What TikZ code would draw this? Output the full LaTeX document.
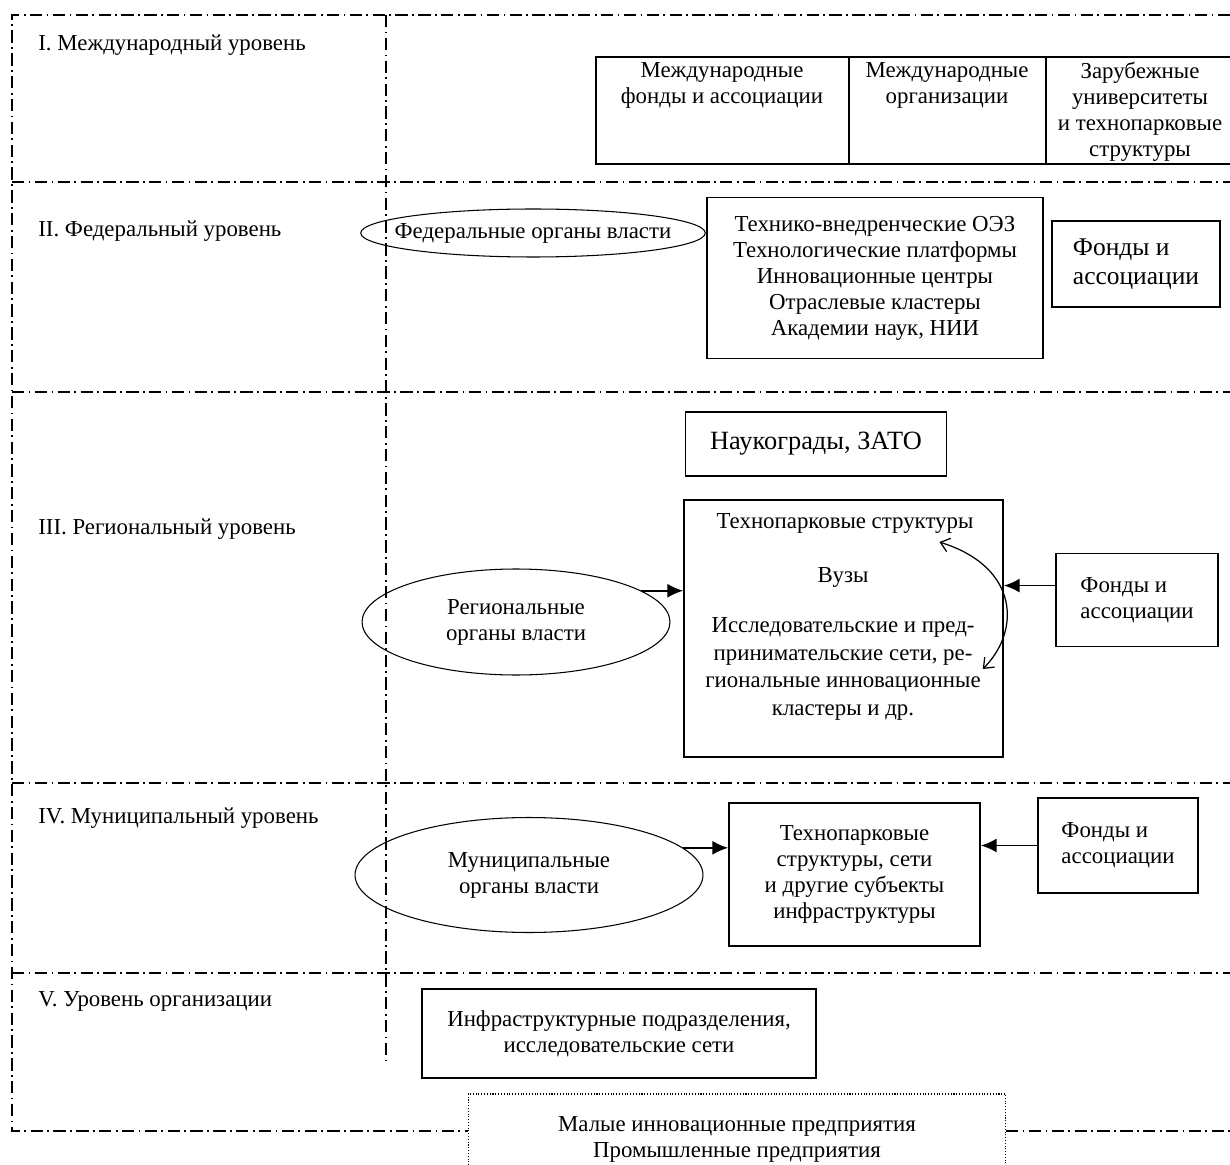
\documentclass[tikz,border=0pt]{standalone}
\usepackage{fontspec}
\setmainfont{Liberation Serif}
\usetikzlibrary{shapes.geometric,arrows.meta}

\begin{document}
\begin{tikzpicture}[x=0.02cm, y=-0.02cm,
    font=\fontsize{13}{14.8}\selectfont,
    levelline/.style={line width=0.7pt, dash pattern=on 7pt off 2.5pt on 1pt off 2.5pt},
    box/.style={rectangle, draw, line width=1pt, align=center, inner sep=2pt},
    authority/.style={ellipse, draw, line width=0.6pt, align=center, inner sep=0pt},
    lvl/.style={anchor=west, inner sep=0pt},
    txt/.style={align=center, inner sep=1pt},
    arr/.style={-{Latex[length=9pt,width=8pt]}, line width=1pt},
    twoway/.style={{Straight Barb[length=5pt,width=8pt]}-{Straight Barb[length=5pt,width=8pt]}, line width=0.7pt}]

    \useasboundingbox (0,0) rectangle (1230,1165);

    % Levels grid
    \draw[levelline] (1230,15) -- (12,15) -- (12,1131) -- (468,1131);
    \draw[levelline] (1006,1131) -- (1230,1131);
    \foreach \y in {182,392,783,973}
        \draw[levelline] (12,\y) -- (1230,\y);
    \draw[levelline] (386,15) -- (386,1062);

    \node[lvl] (lvl1) at (38,45) {I. Международный уровень};
    \node[lvl] (lvl2) at (38,231) {II. Федеральный уровень};
    \node[lvl] (lvl3) at (38,529) {III. Региональный уровень};
    \node[lvl] (lvl4) at (38,818) {IV. Муниципальный уровень};
    \node[lvl] (lvl5) at (38,1001) {V. Уровень организации};

    % International level
    \draw[line width=1pt] (1240,57) -- (596,57) -- (596,164) -- (1240,164);
    \foreach \x in {849,1046}
        \draw[line width=1pt] (\x,57) -- (\x,164);
    \node[txt, anchor=north, inner sep=0pt] (intfunds) at (722,62) {Международные\\фонды и ассоциации};
    \node[txt, anchor=north, inner sep=0pt] (intorgs) at (947,62) {Международные\\организации};
    \node[txt, anchor=north, inner sep=0pt] (foreignuni) at (1140,62) {Зарубежные\\университеты\\и технопарковые\\структуры};

    % Federal level
    \node[authority, inner xsep=-0.33cm, minimum height=0.96cm] (fedauth) at (533,233) {Федеральные органы власти};
    \node[box, minimum width=6.72cm, minimum height=3.22cm] (fedbox) at (875,278)
        {Технико-внедренческие ОЭЗ\\Технологические платформы\\Инновационные центры\\Отраслевые кластеры\\Академии наук, НИИ};
    \node[box, align=left, font=\fontsize{14.5}{16.5}\selectfont, minimum width=3.36cm, minimum height=1.72cm] (fedfunds) at (1136,264)
        {Фонды и\\ассоциации};

    % Regional level
    \node[box, font=\fontsize{15}{17}\selectfont, minimum width=5.22cm, minimum height=1.28cm] (naukograd) at (816,444) {Наукограды, ЗАТО};
    \node[box, minimum width=6.38cm, minimum height=5.14cm] (regbox) at (843.5,628.5) {};
    \node[txt] (techpark) at (845,523) {Технопарковые структуры};
    \node[txt] (vuz) at (843,577) {Вузы};
    \node[txt, font=\fontsize{13}{15.6}\selectfont] (netw) at (843,669)
        {Исследовательские и пред-\\принимательские сети, ре-\\гиональные инновационные\\кластеры и др.};
    \node[authority, minimum width=6.16cm, minimum height=2.12cm] (regauth) at (516,622) {Региональные\\органы власти};
    \node[box, align=left, minimum width=3.24cm, minimum height=1.86cm] (regfunds) at (1137,600) {Фонды и\\ассоциации};

    \draw[arr] (regauth.14) -- (regauth.14 -| regbox.west);
    \draw[arr] (regfunds.170) -- (regfunds.170 -| regbox.east);
    \draw[twoway] ([xshift=-0.72cm, yshift=-0.14cm]techpark.south east)
        .. controls +(80,25) and +(38,-38) .. (netw.east);

    % Municipal level
    \node[authority, minimum width=6.96cm, minimum height=2.3cm] (munauth) at (529,875) {Муниципальные\\органы власти};
    \node[box, minimum width=5.02cm, minimum height=2.86cm] (munbox) at (854.5,874.5)
        {Технопарковые\\структуры, сети\\и другие субъекты\\инфраструктуры};
    \node[box, align=left, minimum width=3.2cm, minimum height=1.9cm] (munfunds) at (1118,845.5) {Фонды и\\ассоциации};

    \draw[arr] (munauth.10) -- (munauth.10 -| munbox.west);
    \draw[arr] (munfunds.west) -- (munfunds.west -| munbox.east);

    % Organization level
    \node[box, minimum width=7.88cm, minimum height=1.78cm] (orgbox) at (619,1033.5)
        {Инфраструктурные подразделения,\\исследовательские сети};
    \node[rectangle, draw, densely dotted, line width=0.6pt, align=center, minimum width=10.76cm, minimum height=1.82cm] (firms) at (737,1139.5)
        {Малые инновационные предприятия\\Промышленные предприятия};
\end{tikzpicture}
\end{document}
